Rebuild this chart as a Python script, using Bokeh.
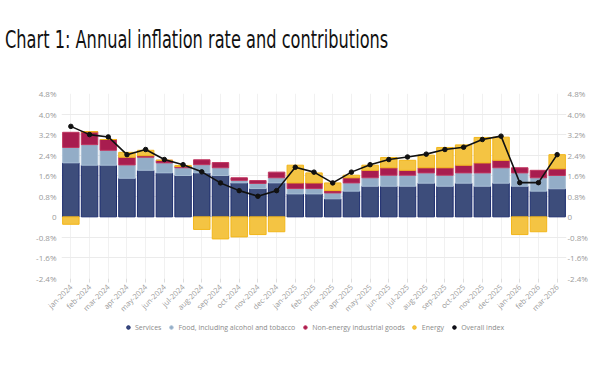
import math
from bokeh.plotting import figure
from bokeh.layouts import column
from bokeh.models import (FactorRange, Range1d, LinearAxis, FixedTicker, Legend,
                          LegendItem, ColumnDataSource, PrintfTickFormatter, Div)
from bokeh.embed import file_html
from bokeh.resources import INLINE

title_text = "Chart 1: Annual inflation rate and contributions"
months = ["jan-2024", "feb-2024", "mar-2024", "apr-2024", "may-2024", "jun-2024",
          "jul-2024", "aug-2024", "sep-2024", "oct-2024", "nov-2024", "dec-2024",
          "jan-2025", "feb-2025", "mar-2025", "apr-2025", "may-2025", "jun-2025",
          "jul-2025", "aug-2025", "sep-2025", "oct-2025", "nov-2025", "dec-2025",
          "jan-2026", "feb-2026", "mar-2026"]
services = [2.10, 2.01, 2.01, 1.50, 1.81, 1.71, 1.61, 1.71, 1.61, 1.32, 1.10, 1.32,
            0.89, 0.89, 0.70, 1.00, 1.19, 1.19, 1.19, 1.31, 1.19, 1.31, 1.19, 1.31,
            1.19, 1.00, 1.09]
food = [0.60, 0.80, 0.58, 0.52, 0.51, 0.39, 0.30, 0.32, 0.30, 0.10, 0.20, 0.20,
        0.21, 0.21, 0.23, 0.32, 0.33, 0.43, 0.43, 0.40, 0.43, 0.40, 0.52, 0.60,
        0.52, 0.52, 0.52]
neig = [0.59, 0.50, 0.42, 0.30, 0.06, 0.10, 0.05, 0.19, 0.20, 0.10, 0.11, 0.22,
        0.22, 0.22, 0.09, 0.20, 0.29, 0.29, 0.19, 0.20, 0.29, 0.30, 0.39, 0.29,
        0.20, 0.29, 0.26]
energy = [-0.29, 0.0, 0.0, 0.19, 0.21, 0.0, 0.04, -0.49, -0.86, -0.78, -0.69, -0.58,
          0.69, 0.39, 0.30, 0.10, 0.20, 0.40, 0.39, 0.49, 0.79, 0.79, 0.99, 0.90,
          -0.69, -0.58, 0.55]
overall = [3.52, 3.20, 3.11, 2.42, 2.62, 2.23, 2.03, 1.75, 1.32, 1.02, 0.80, 1.02,
           1.93, 1.74, 1.32, 1.74, 2.03, 2.23, 2.33, 2.44, 2.62, 2.71, 3.01, 3.14,
           1.33, 1.33, 2.42]
yticks = [-2.4, -1.6, -0.8, 0, 0.8, 1.6, 2.4, 3.2, 4.0, 4.8]
series_names = ["Services", "Food, including alcohol and tobacco",
                "Non-energy industrial goods", "Energy", "Overall index"]

C_SERV, L_SERV = "#3d4d7b", "#1c2c6e"
C_FOOD, L_FOOD = "#93adc7", "#a9bfd5"
C_NEIG, L_NEIG = "#a81d4f", "#c0355f"
C_ENER, L_ENER = "#f4c443", "#f2b61a"
C_OVER, L_OVER = "#111122", "#000000"

s_top = services
f_bot = services
f_top = [a + b for a, b in zip(services, food)]
n_bot = f_top
n_top = [a + b for a, b in zip(f_top, neig)]
e_bot = [t if e >= 0 else 0 for t, e in zip(n_top, energy)]
e_top = [t + e if e >= 0 else e for t, e in zip(n_top, energy)]

src = ColumnDataSource(dict(x=months, s_top=s_top, f_bot=f_bot, f_top=f_top,
                            n_bot=n_bot, n_top=n_top, e_bot=e_bot, e_top=e_top,
                            overall=overall))

# ---- title ----
head = Div(text=('<div style="padding:25px 0 0 5px;white-space:nowrap;">'
                 '<span style="display:inline-block;transform:scaleY(1.35);transform-origin:0 0;'
                 'font-family:\'DejaVu Sans Condensed\',Roboto,sans-serif;'
                 'font-size:18px;line-height:21px;color:#111111;">'
                 + title_text + '</span></div>'),
           width=584, height=60, margin=(0, 0, 0, 0))

# ---- main chart ----
p = figure(x_range=FactorRange(*months, range_padding=0), y_range=Range1d(-2.4, 4.8),
           frame_width=505, frame_height=185, output_backend="svg", toolbar_location=None,
           min_border_left=61, min_border_right=20, min_border_top=33,
           min_border_bottom=36, outline_line_color=None)

bw = 0.88
p.vbar(x="x", bottom=0, top="s_top", width=bw, source=src, fill_color=C_SERV, line_color=L_SERV, line_width=1)
p.vbar(x="x", bottom="f_bot", top="f_top", width=bw, source=src, fill_color=C_FOOD, line_color=L_FOOD, line_width=1)
p.vbar(x="x", bottom="n_bot", top="n_top", width=bw, source=src, fill_color=C_NEIG, line_color=L_NEIG, line_width=1)
p.vbar(x="x", bottom="e_bot", top="e_top", width=bw, source=src, fill_color=C_ENER, line_color=L_ENER, line_width=1)
p.line(x="x", y="overall", source=src, line_color="#111111", line_width=1.6)
p.scatter(x="x", y="overall", source=src, marker="circle", size=4.5, fill_color="#111111", line_color="#111111")

ticker = FixedTicker(ticks=yticks)
fmt = PrintfTickFormatter(format="%.1f%%")
p.yaxis[0].ticker = ticker
p.yaxis[0].formatter = fmt
p.yaxis[0].major_label_overrides = {0: "0"}
raxis = LinearAxis(ticker=ticker, formatter=fmt, major_label_overrides={0: "0"})
p.add_layout(raxis, "right")
for ax in [p.yaxis[0], raxis]:
    ax.axis_line_color = None
    ax.major_tick_line_color = None
    ax.minor_tick_line_color = None
    ax.major_tick_out = 0
    ax.major_tick_in = 0
    ax.minor_tick_out = 0
    ax.minor_tick_in = 0
    ax.major_label_text_color = "#9a9a9a"
    ax.major_label_text_font = "Open Sans"
    ax.major_label_text_font_size = "8px"
    ax.major_label_text_baseline = "bottom"
p.yaxis[0].major_label_standoff = 5
raxis.major_label_standoff = 1

xa = p.xaxis[0]
xa.major_label_orientation = math.pi / 4
xa.axis_line_color = None
xa.major_tick_line_color = "#dddddd"
xa.major_tick_out = 4
xa.major_tick_in = 0
xa.major_label_text_color = "#9a9a9a"
xa.major_label_text_font = "Open Sans"
xa.major_label_text_font_size = "7.5px"
xa.major_label_standoff = 3

p.ygrid.ticker = ticker
p.ygrid.grid_line_color = "#ebebeb"
p.xgrid.grid_line_color = "#f1f1f1"

# ---- legend strip ----
leg = figure(x_range=Range1d(0, 1), y_range=Range1d(0, 1), frame_width=505, frame_height=16,
             output_backend="svg", toolbar_location=None, min_border_left=61,
             min_border_right=18, min_border_top=0, min_border_bottom=0,
             x_axis_location=None, y_axis_location=None, outline_line_color=None)
leg.grid.visible = False
cols = [(C_SERV, L_SERV), (C_FOOD, L_FOOD), (C_NEIG, L_NEIG), (C_ENER, L_ENER), (C_OVER, L_OVER)]
items = []
for name, (fc, lc) in zip(series_names, cols):
    r = leg.scatter(x=[float("nan")], y=[float("nan")], marker="circle", size=8, fill_color=fc, line_color=lc)
    items.append(LegendItem(label=name, renderers=[r]))
legend = Legend(items=items, orientation="horizontal", location="center",
                border_line_color=None, background_fill_alpha=0,
                label_text_font="Open Sans", label_text_font_size="7px",
                label_text_color="#8a8a8a", glyph_width=9, glyph_height=9,
                spacing=5, label_standoff=3, padding=0, margin=0)
leg.add_layout(legend, "center")

layout = column(head, p, leg, spacing=0)
open("out.html", "w").write(file_html(layout, INLINE))
